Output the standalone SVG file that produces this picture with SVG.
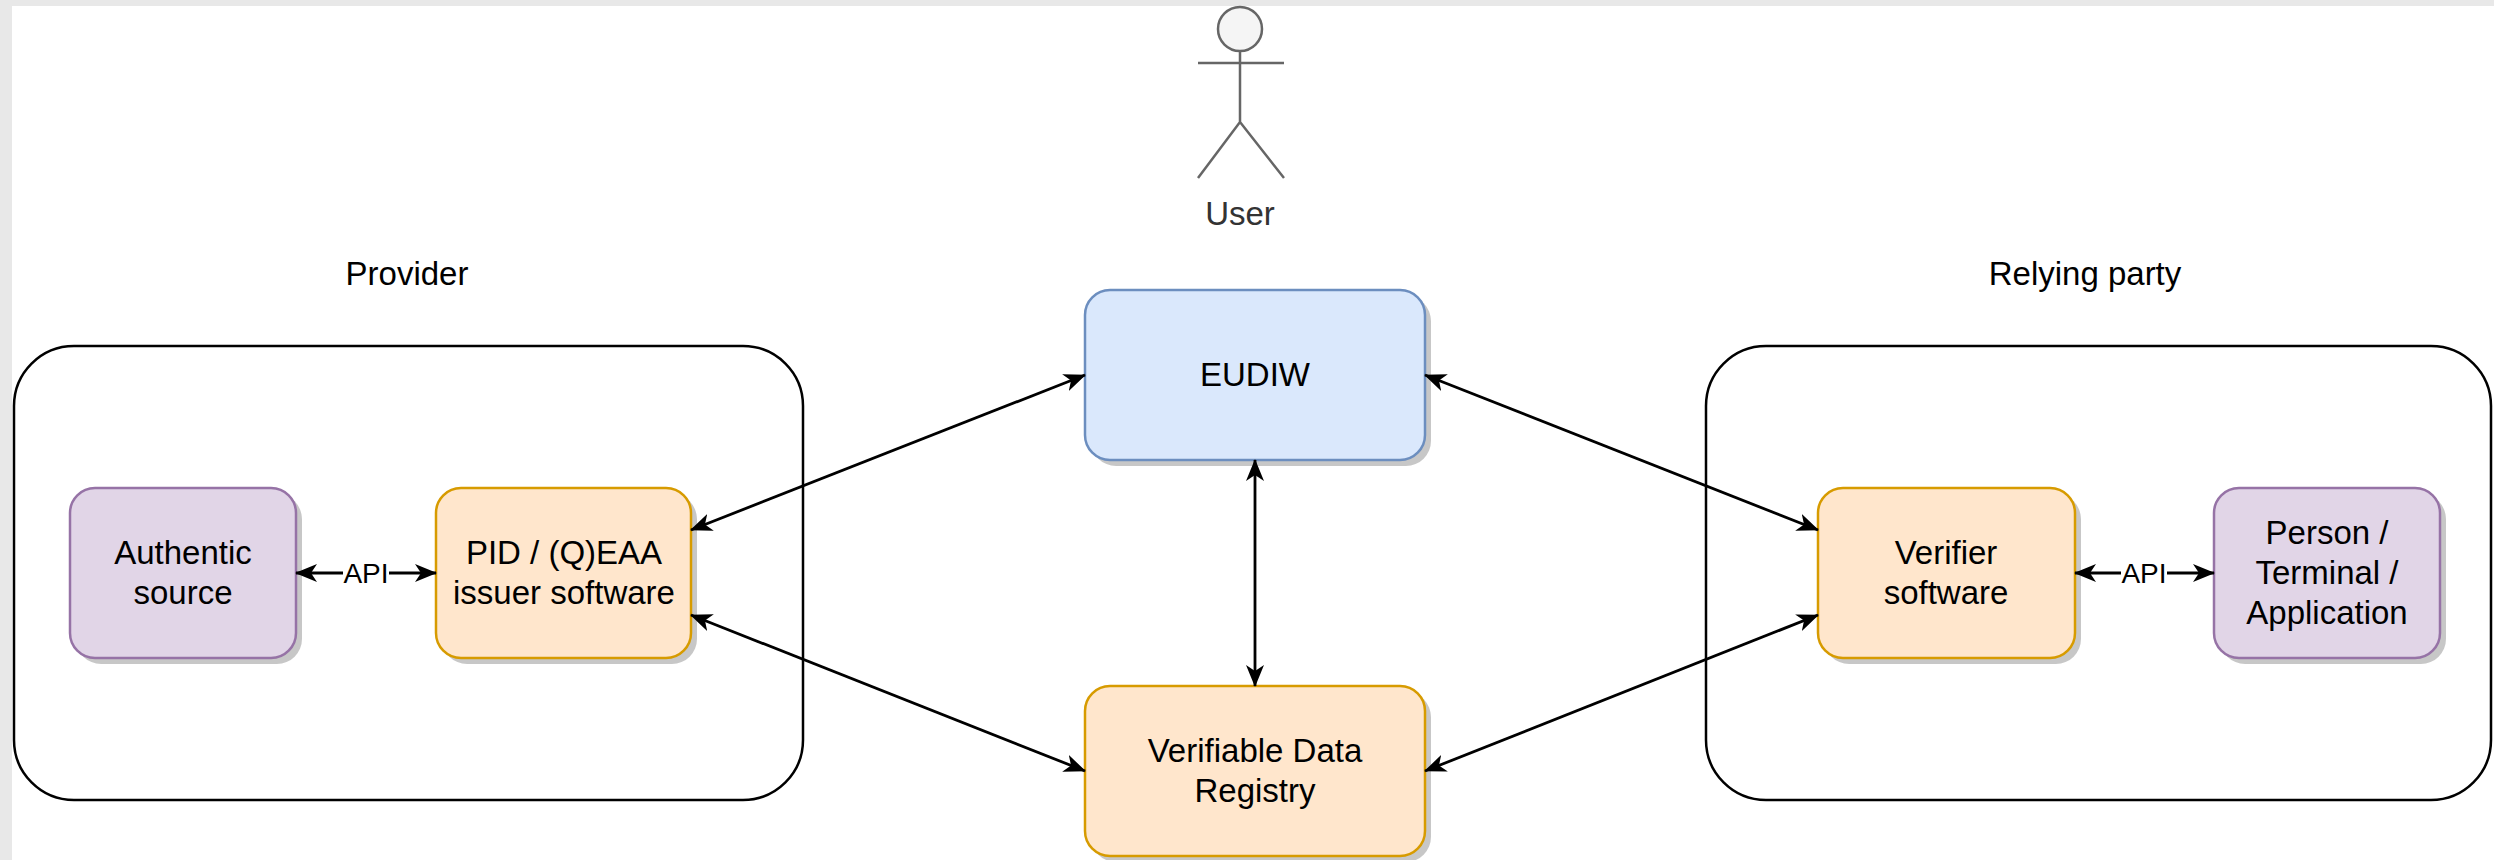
<svg xmlns="http://www.w3.org/2000/svg" width="2494" height="860" viewBox="0 0 2494 860">
<style>
text{font-family:"Liberation Sans",Arial,Helvetica,sans-serif;font-size:33px;fill:#000;text-anchor:middle}
.lbl{font-size:28px}
.cont{fill:none;stroke:#000;stroke-width:2.5}
.shadow{fill:#000;fill-opacity:0.22}
.orange{fill:#ffe6cc;stroke:#d79b00;stroke-width:2.5}
.purple{fill:#e1d5e7;stroke:#9673a6;stroke-width:2.5}
.blue{fill:#dae8fc;stroke:#6c8ebf;stroke-width:2.5}
.edge{fill:none;stroke:#000;stroke-width:2.8;marker-start:url(#arr);marker-end:url(#arr)}
.actor{fill:none;stroke:#666;stroke-width:2.5}
</style>
<defs>
<marker id="arr" viewBox="0 0 22 18" refX="21" refY="9" markerWidth="22" markerHeight="18" markerUnits="userSpaceOnUse" orient="auto-start-reverse">
<path d="M0,0 L22,9 L0,18 L6,9 Z" fill="#000"/>
</marker>
</defs>
<rect x="0" y="0" width="2494" height="860" fill="#fff"/>
<rect x="0" y="0" width="2494" height="6" fill="#e8e8e8"/>
<rect x="0" y="0" width="12" height="860" fill="#e8e8e8"/>

<g id="user">
<circle cx="1240" cy="29" r="22" fill="#f5f5f5" stroke="#666" stroke-width="2.5"/>
<path class="actor" d="M1240,51 V122 M1198,63 H1284 M1198,178 L1240,122 L1284,178"/>
<text x="1240" y="225" style="fill:#333">User</text>
</g>

<g id="provider">
<rect class="cont" x="14" y="346" width="789" height="454" rx="60" ry="60"/>
<text x="407" y="285">Provider</text>
</g>

<g id="relying-party">
<rect class="cont" x="1706" y="346" width="785" height="454" rx="60" ry="60"/>
<text x="2085" y="285">Relying party</text>
</g>

<g id="eudiw">
<rect class="shadow" x="1091" y="296" width="340" height="170" rx="25"/>
<rect class="blue" x="1085" y="290" width="340" height="170" rx="25"/>
<text x="1255" y="386">EUDIW</text>
</g>

<g id="vdr">
<rect class="shadow" x="1091" y="692" width="340" height="170" rx="25"/>
<rect class="orange" x="1085" y="686" width="340" height="170" rx="25"/>
<text x="1255" y="762">Verifiable Data</text>
<text x="1255" y="802">Registry</text>
</g>

<g id="authentic-source">
<rect class="shadow" x="76" y="494" width="226" height="170" rx="25"/>
<rect class="purple" x="70" y="488" width="226" height="170" rx="25"/>
<text x="183" y="564">Authentic</text>
<text x="183" y="604">source</text>
</g>

<g id="issuer">
<rect class="shadow" x="442" y="494" width="255" height="170" rx="25"/>
<rect class="orange" x="436" y="488" width="255" height="170" rx="25"/>
<text x="564" y="564">PID / (Q)EAA</text>
<text x="564" y="604">issuer software</text>
</g>

<g id="verifier">
<rect class="shadow" x="1824" y="494" width="257" height="170" rx="25"/>
<rect class="orange" x="1818" y="488" width="257" height="170" rx="25"/>
<text x="1946" y="564">Verifier</text>
<text x="1946" y="604">software</text>
</g>

<g id="person">
<rect class="shadow" x="2220" y="494" width="226" height="170" rx="25"/>
<rect class="purple" x="2214" y="488" width="226" height="170" rx="25"/>
<text x="2327" y="544">Person /</text>
<text x="2327" y="584">Terminal /</text>
<text x="2327" y="624">Application</text>
</g>

<g id="connectors">
<line class="edge" x1="296" y1="573" x2="436" y2="573"/>
<rect x="343" y="556" width="46" height="32" fill="#fff"/>
<text class="lbl" x="366" y="583">API</text>
<line class="edge" x1="2075" y1="573" x2="2214" y2="573"/>
<rect x="2121" y="556" width="46" height="32" fill="#fff"/>
<text class="lbl" x="2144" y="583">API</text>
<line class="edge" x1="1085" y1="375" x2="691" y2="530"/>
<line class="edge" x1="1425" y1="375" x2="1818" y2="530"/>
<line class="edge" x1="691" y1="615" x2="1085" y2="771"/>
<line class="edge" x1="1818" y1="615" x2="1425" y2="771"/>
<line class="edge" x1="1255" y1="460" x2="1255" y2="686"/>
</g>
</svg>
